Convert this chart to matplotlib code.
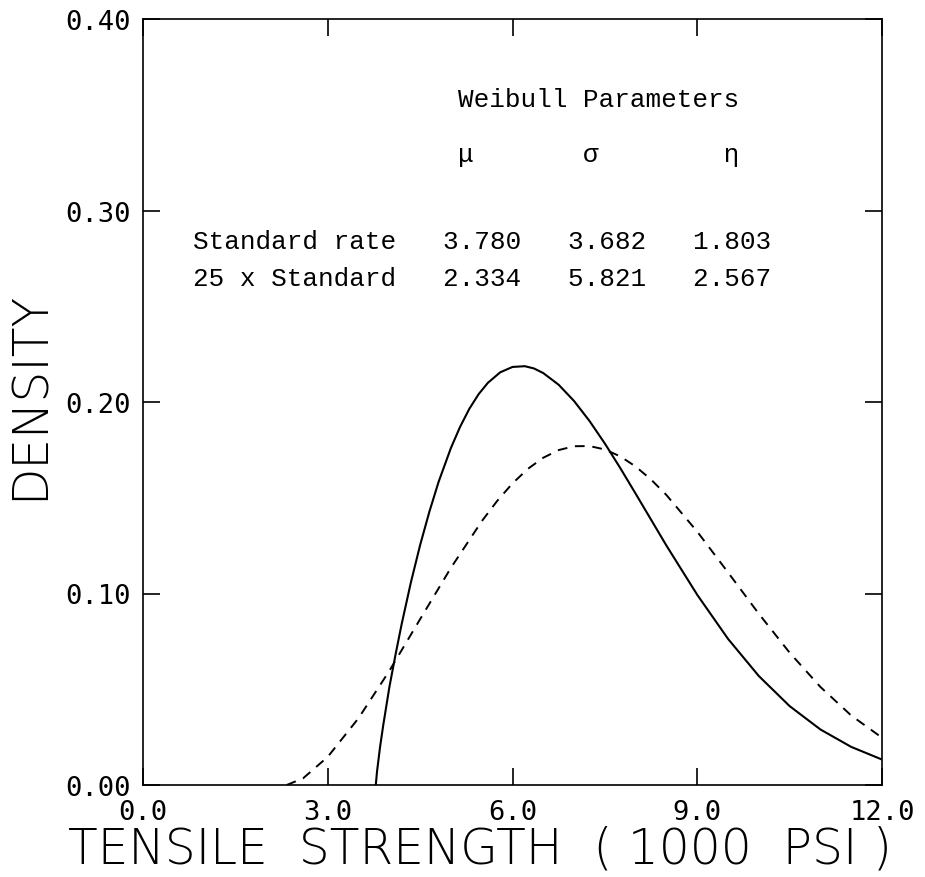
import matplotlib
matplotlib.use("Agg")
import matplotlib.pyplot as plt

# values
strength_std = [3.78, 3.80, 3.85, 3.90, 4.00, 4.10, 4.20, 4.35, 4.50, 4.65, 4.80, 5.00,
                5.15, 5.30, 5.45, 5.60, 5.80, 6.00, 6.20, 6.35, 6.50, 6.75, 7.00, 7.25,
                7.50, 7.75, 8.00, 8.50, 9.00, 9.50, 10.00, 10.50, 11.00, 11.50, 12.00]
density_std = [0.000, 0.007, 0.020, 0.031, 0.051, 0.068, 0.084, 0.1058, 0.1253, 0.1427,
               0.1583, 0.1760, 0.1871, 0.1965, 0.2041, 0.2100, 0.2155, 0.2183, 0.2187,
               0.2175, 0.2151, 0.2090, 0.2005, 0.1901, 0.1783, 0.1655, 0.1521, 0.1250,
               0.0993, 0.0763, 0.0569, 0.0412, 0.0290, 0.0199, 0.0133]

strength_25x = [2.334, 2.60, 3.00, 3.50, 4.00, 4.50, 5.00, 5.50, 5.75, 6.00, 6.25, 6.50,
                6.75, 7.00, 7.25, 7.50, 7.75, 8.00, 8.25, 8.50, 9.00, 9.50, 10.00, 10.50,
                11.00, 11.50, 12.00]
density_25x = [0.000, 0.0035, 0.0147, 0.0349, 0.0596, 0.0866, 0.1134, 0.1377, 0.1483,
               0.1575, 0.1651, 0.1709, 0.1749, 0.1769, 0.1770, 0.1752, 0.1716, 0.1663,
               0.1595, 0.1514, 0.1323, 0.1110, 0.0894, 0.0691, 0.0512, 0.0363, 0.0247]

row_names = ["Standard rate", "25 x Standard"]
mu = ["3.780", "2.334"]
sigma = ["3.682", "5.821"]
eta = ["1.803", "2.567"]

xticks = [0, 3, 6, 9, 12]
yticks = [0.0, 0.1, 0.2, 0.3, 0.4]

fig = plt.figure(figsize=(9.25, 8.78), dpi=100)
ax = fig.add_axes([143/925, 1-786/878, (882-143)/925, (786-20)/878])

ax.plot(strength_std, density_std, color="black", lw=1.5)
ax.plot(strength_25x, density_25x, color="black", lw=1.4, ls=(0, (5, 4)))

ax.set_xlim(0, 12)
ax.set_ylim(0, 0.40)
ax.set_xticks(xticks)
ax.set_yticks(yticks)
ax.set_xticklabels(["%.1f" % v for v in xticks], family="DejaVu Sans Mono")
ax.set_yticklabels(["%.2f" % v for v in yticks], family="DejaVu Sans Mono")
ax.tick_params(direction="in", length=12, width=1.2, top=True, right=True,
               labelsize=19.5, colors="black")
ax.tick_params(axis="x", pad=10)
ax.tick_params(axis="y", pad=9)
for s in ax.spines.values():
    s.set_linewidth(1.2)

# parameter table, monospace columns
mono = "Liberation Mono"
fs = 18.7
x0 = 0.812
ax.text(5.117, 0.358, "Weibull Parameters", family=mono, fontsize=fs, va="center")
ax.text(5.117, 0.3295, "\u03bc       \u03c3        \u03b7", family=mono, fontsize=fs, va="center")
for i in range(2):
    line = "%s   %s   %s   %s" % (row_names[i], mu[i], sigma[i], eta[i])
    ax.text(x0, 0.284 - i * 0.0193, line, family=mono, fontsize=fs, va="center")

fig.text(480/925, 1-850/878, "TENSILE  STRENGTH  ( 1000  PSI )", fontsize=35,
         ha="center", va="center", fontweight="light")
fig.text(30/925, 1-395/878, "DENSITY", fontsize=35, rotation=90,
         ha="center", va="center", fontweight="light")

fig.savefig("out.png", dpi=100)
